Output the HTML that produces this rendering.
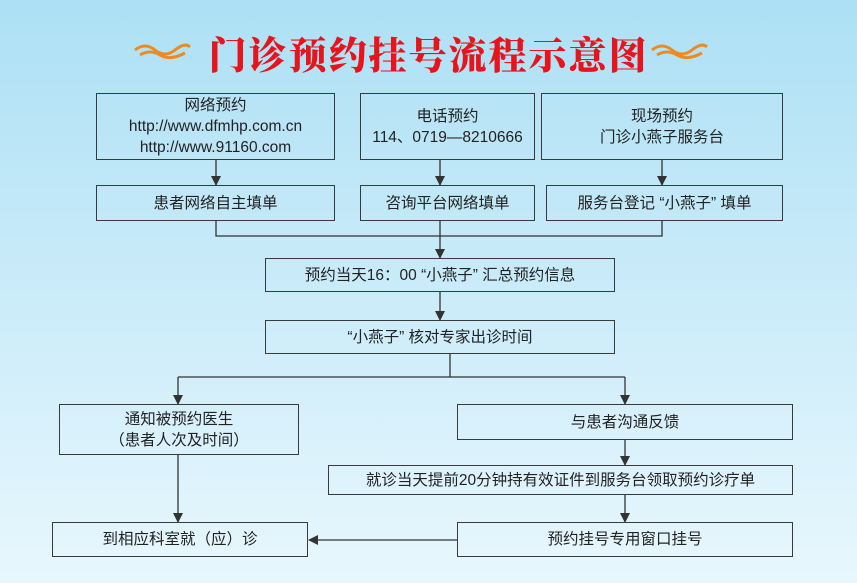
<!DOCTYPE html>
<html><head><meta charset="utf-8"><style>
body{margin:0;width:857px;height:583px;overflow:hidden;background:linear-gradient(#ade0f5,#e8f7fd);font-family:"Liberation Sans","Noto Sans CJK SC",sans-serif;}
.b{position:absolute;border:1.5px solid #3a3a3a;box-sizing:border-box;display:flex;align-items:center;justify-content:center;text-align:center;font-size:15.5px;color:#222;line-height:21px;}
.t{position:absolute;left:0;width:857px;top:25px;text-align:center;font-family:"Noto Serif CJK SC",serif;font-weight:900;font-size:38px;color:#e8141c;letter-spacing:2px;}
svg{position:absolute;left:0;top:0}
</style></head><body>
<div class="t">门诊预约挂号流程示意图</div>
<svg width="857" height="583">
<defs><marker id="a" markerWidth="10" markerHeight="10" refX="9" refY="5" orient="auto" markerUnits="userSpaceOnUse"><path d="M0,0 L10,5 L0,10z" fill="#333"/></marker></defs>
<g fill="none" stroke="#f08a1e" stroke-width="3">
<path d="M135,50 q10,-8 20,0 t20,0 t15,-3"/><path d="M140,55 q10,-6 20,0 t25,-2"/>
<path d="M652,50 q10,-8 20,0 t20,0 t15,-3"/><path d="M657,55 q10,-6 20,0 t25,-2"/>
</g>
<g stroke="#333" stroke-width="1.3" fill="none">
<line x1="216" y1="160" x2="216" y2="185" marker-end="url(#a)"/>
<line x1="440" y1="160" x2="440" y2="185" marker-end="url(#a)"/>
<line x1="662" y1="160" x2="662" y2="185" marker-end="url(#a)"/>
<polyline points="216,221 216,236 662,236 662,221"/>
<line x1="440" y1="221" x2="440" y2="258" marker-end="url(#a)"/>
<line x1="440" y1="292" x2="440" y2="320" marker-end="url(#a)"/>
<line x1="450" y1="354" x2="450" y2="377"/>
<line x1="178" y1="377" x2="625" y2="377"/>
<line x1="178" y1="377" x2="178" y2="404" marker-end="url(#a)"/>
<line x1="625" y1="377" x2="625" y2="404" marker-end="url(#a)"/>
<line x1="625" y1="440" x2="625" y2="465" marker-end="url(#a)"/>
<line x1="625" y1="495" x2="625" y2="522" marker-end="url(#a)"/>
<line x1="178" y1="455" x2="178" y2="522" marker-end="url(#a)"/>
<line x1="457" y1="540" x2="309" y2="540" marker-end="url(#a)"/>
</g></svg>
<div class="b" style="left:96px;top:93px;width:239px;height:67px">网络预约<br>http://www.dfmhp.com.cn<br>http://www.91160.com</div>
<div class="b" style="left:360px;top:93px;width:175px;height:67px">电话预约<br>114、0719—8210666</div>
<div class="b" style="left:541px;top:93px;width:242px;height:67px">现场预约<br>门诊小燕子服务台</div>
<div class="b" style="left:96px;top:185px;width:239px;height:36px">患者网络自主填单</div>
<div class="b" style="left:360px;top:185px;width:175px;height:36px">咨询平台网络填单</div>
<div class="b" style="left:546px;top:185px;width:237px;height:36px">服务台登记 “小燕子” 填单</div>
<div class="b" style="left:265px;top:258px;width:350px;height:34px">预约当天16：00 “小燕子” 汇总预约信息</div>
<div class="b" style="left:265px;top:320px;width:350px;height:34px">“小燕子” 核对专家出诊时间</div>
<div class="b" style="left:59px;top:404px;width:240px;height:51px">通知被预约医生<br>（患者人次及时间）</div>
<div class="b" style="left:457px;top:404px;width:336px;height:36px">与患者沟通反馈</div>
<div class="b" style="left:328px;top:465px;width:465px;height:30px">就诊当天提前20分钟持有效证件到服务台领取预约诊疗单</div>
<div class="b" style="left:52px;top:522px;width:256px;height:35px">到相应科室就（应）诊</div>
<div class="b" style="left:457px;top:522px;width:336px;height:35px">预约挂号专用窗口挂号</div>
</body></html>
